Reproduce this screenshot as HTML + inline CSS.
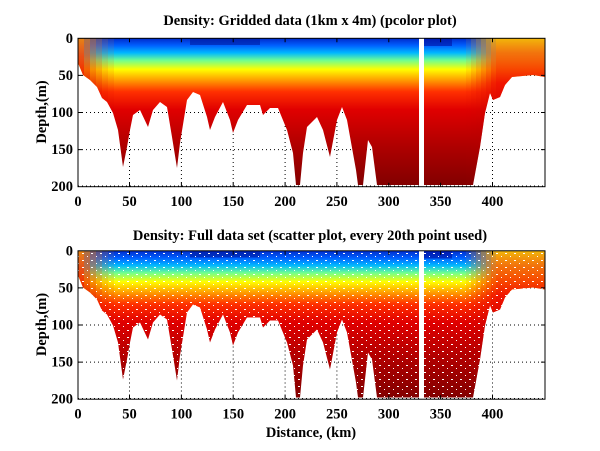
<!DOCTYPE html>
<html><head><meta charset="utf-8"><style>
body{margin:0;background:#fff}
svg{display:block}
text{font-family:"Liberation Serif",serif;font-weight:bold;fill:#000}
</style></head><body>
<svg width="600" height="451" viewBox="0 0 600 451" xmlns="http://www.w3.org/2000/svg">
<defs>
<linearGradient id="vg" x1="0" y1="0" x2="0" y2="1">
<stop offset="0" stop-color="#0028c8"/>
<stop offset="0.05" stop-color="#0060ff"/>
<stop offset="0.1" stop-color="#00b8ff"/>
<stop offset="0.15" stop-color="#70ff90"/>
<stop offset="0.21" stop-color="#ffff00"/>
<stop offset="0.28" stop-color="#ffa000"/>
<stop offset="0.36" stop-color="#ff3000"/>
<stop offset="0.48" stop-color="#e00000"/>
<stop offset="0.72" stop-color="#b00000"/>
<stop offset="1" stop-color="#800000"/>
</linearGradient>
<linearGradient id="warm" gradientUnits="userSpaceOnUse" x1="0" y1="38" x2="0" y2="187">
<stop offset="0" stop-color="#ffc000"/>
<stop offset="0.1" stop-color="#ff7000"/>
<stop offset="0.3" stop-color="#f01000"/>
<stop offset="0.6" stop-color="#c00000"/>
<stop offset="1" stop-color="#900000"/>
</linearGradient>
<linearGradient id="warmL" gradientUnits="userSpaceOnUse" x1="0" y1="38" x2="0" y2="187">
<stop offset="0" stop-color="#ff9000"/>
<stop offset="0.12" stop-color="#ff4000"/>
<stop offset="0.3" stop-color="#e00000"/>
<stop offset="1" stop-color="#900000"/>
</linearGradient>
<path id="prof" d="M78,38 L78,63 L83,75 L90,80 L97,87 L102,98 L107,102 L113,113 L118,130 L123,167 L127,147 L130,130 L133,115 L140,110 L148,127 L153,110 L160,102 L167,107 L172,137 L177,168 L180,143 L187,100 L193,92 L200,95 L207,117 L210,130 L215,117 L223,102 L230,120 L233,133 L238,120 L247,105 L260,105 L263,115 L270,108 L278,108 L287,130 L293,153 L296,185 L300,185 L303,153 L307,127 L317,117 L323,130 L330,157 L337,120 L342,107 L347,120 L356,170 L358,185 L363,185 L368,140 L372,147 L377,185 L473,185 L480,147 L485,113 L490,93 L493,100 L500,97 L505,85 L512,77 L533,75 L545,77 L545,38 Z"/>
<clipPath id="c1"><use href="#prof"/></clipPath>
<clipPath id="c2"><use href="#prof" transform="translate(0,212.5)"/></clipPath>
<pattern id="sp" x="0" y="0" width="9" height="7" patternUnits="userSpaceOnUse">
<rect x="1" y="1" width="2" height="1" fill="#fff"/>
<rect x="6" y="4" width="1" height="1" fill="#fff"/>
</pattern>
<g id="grid" stroke="#000" stroke-width="1" stroke-dasharray="1,3">
<line x1="129.5" y1="38" x2="129.5" y2="187"/><line x1="181.4" y1="38" x2="181.4" y2="187"/>
<line x1="233.2" y1="38" x2="233.2" y2="187"/><line x1="285.1" y1="38" x2="285.1" y2="187"/>
<line x1="336.9" y1="38" x2="336.9" y2="187"/><line x1="388.8" y1="38" x2="388.8" y2="187"/>
<line x1="440.6" y1="38" x2="440.6" y2="187"/><line x1="492.5" y1="38" x2="492.5" y2="187"/>
<line x1="78" y1="75.4" x2="545" y2="75.4"/><line x1="78" y1="112.5" x2="545" y2="112.5"/>
<line x1="78" y1="149.6" x2="545" y2="149.6"/><line x1="78" y1="186" x2="545" y2="186"/>
</g>
<g id="data">
<rect x="78" y="38" width="467" height="149" fill="url(#vg)"/>
<g fill="url(#warmL)">
<rect x="78" y="38" width="6" height="149" opacity="0.9"/>
<rect x="84" y="38" width="6" height="149" opacity="0.7"/>
<rect x="90" y="38" width="6" height="149" opacity="0.5"/>
<rect x="96" y="38" width="6" height="149" opacity="0.35"/>
<rect x="102" y="38" width="6" height="149" opacity="0.2"/>
<rect x="108" y="38" width="6" height="149" opacity="0.1"/>
</g>
<g fill="url(#warm)">
<rect x="466" y="38" width="5" height="149" opacity="0.1"/>
<rect x="471" y="38" width="5" height="149" opacity="0.25"/>
<rect x="476" y="38" width="5" height="149" opacity="0.4"/>
<rect x="481" y="38" width="5" height="149" opacity="0.55"/>
<rect x="486" y="38" width="5" height="149" opacity="0.7"/>
<rect x="491" y="38" width="5" height="149" opacity="0.85"/>
<rect x="496" y="38" width="50" height="149" opacity="0.95"/>
</g>
<rect x="190" y="38" width="70" height="7" fill="#001aa0" opacity="0.6"/>
<rect x="424" y="38" width="28" height="8" fill="#0010a0" opacity="0.6"/>
</g>
<g id="ax" fill="none" stroke="#000" stroke-width="1">
<rect x="78" y="38.3" width="467" height="148.4"/>
<path d="M129.5,186.7v-4M181.4,186.7v-4M233.2,186.7v-4M285.1,186.7v-4M336.9,186.7v-4M388.8,186.7v-4M440.6,186.7v-4M492.5,186.7v-4M129.5,38.3v4M181.4,38.3v4M233.2,38.3v4M285.1,38.3v4M336.9,38.3v4M388.8,38.3v4M440.6,38.3v4M492.5,38.3v4M78,75.4h4M78,112.5h4M78,149.6h4M545,75.4h-4M545,112.5h-4M545,149.6h-4"/>
</g>
<g id="tl" font-size="14.5">
<text x="73" y="43" text-anchor="end">0</text>
<text x="73" y="80" text-anchor="end">50</text>
<text x="73" y="117" text-anchor="end">100</text>
<text x="73" y="154" text-anchor="end">150</text>
<text x="73" y="191" text-anchor="end">200</text>
<g text-anchor="middle">
<text x="78" y="206">0</text><text x="129.5" y="206">50</text><text x="181.4" y="206">100</text>
<text x="233.2" y="206">150</text><text x="285.1" y="206">200</text><text x="336.9" y="206">250</text>
<text x="388.8" y="206">300</text><text x="440.6" y="206">350</text><text x="492.5" y="206">400</text>
</g>
<text transform="translate(46,112) rotate(-90)" text-anchor="middle">Depth,(m)</text>
</g>
</defs>

<use href="#grid"/>
<g clip-path="url(#c1)"><use href="#data"/></g>
<rect x="419" y="37" width="5" height="151" fill="#fff"/>
<use href="#ax"/>
<use href="#tl"/>
<text x="310" y="25" font-size="14.5" text-anchor="middle">Density: Gridded data (1km x 4m) (pcolor plot)</text>

<g transform="translate(0,212.5)">
<use href="#grid"/>
</g>
<g clip-path="url(#c2)"><use href="#data" transform="translate(0,212.5)"/><rect x="78" y="250" width="467" height="150" fill="url(#sp)"/></g>
<g transform="translate(0,212.5)">
<rect x="419" y="37" width="5" height="151" fill="#fff"/>
<use href="#ax"/>
<use href="#tl"/>
</g>
<text x="310" y="240" font-size="14.5" text-anchor="middle">Density: Full data set (scatter plot, every 20th point used)</text>
<text x="311" y="437" font-size="14.5" text-anchor="middle">Distance, (km)</text>
</svg>
</body></html>
